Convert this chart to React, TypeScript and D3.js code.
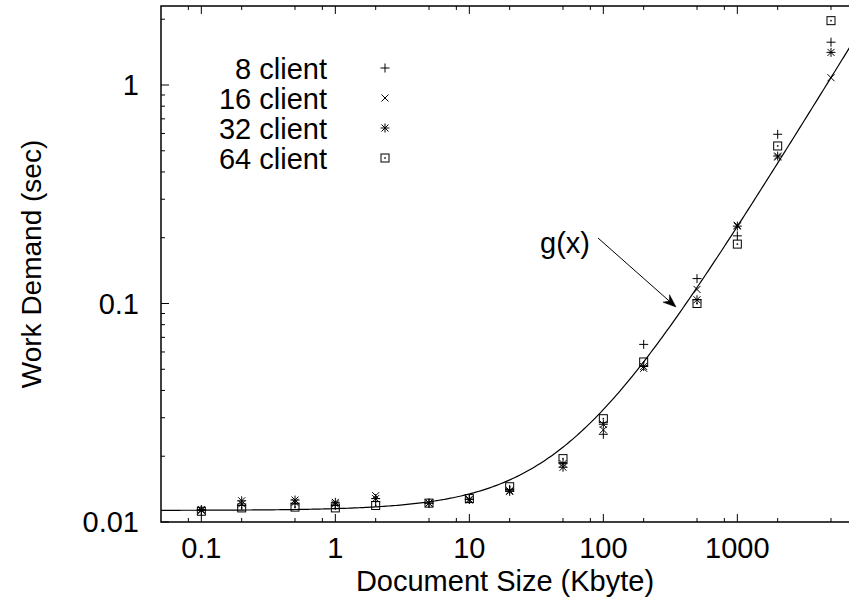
import React from "react";
import * as d3 from "d3";

const sizes = [0.1, 0.2, 0.5, 1, 2, 5, 10, 20, 50, 100, 200, 500, 1000, 2000, 5000];
const client8 = [0.0113, 0.0119, 0.0121, 0.0119, 0.0124, 0.0122, 0.0127, 0.0141, 0.0185, 0.0252, 0.065, 0.13, 0.204, 0.595, 1.57];
const client16 = [0.0113, 0.0121, 0.0123, 0.0121, 0.0132, 0.0122, 0.0126, 0.0139, 0.0185, 0.0264, 0.0505, 0.116, 0.228, 0.468, 1.08];
const client32 = [0.0114, 0.0125, 0.0126, 0.0123, 0.0128, 0.0122, 0.0127, 0.0138, 0.0178, 0.028, 0.0515, 0.104, 0.226, 0.473, 1.41];
const client64 = [0.0112, 0.0116, 0.0117, 0.0116, 0.0119, 0.0122, 0.0128, 0.0145, 0.0195, 0.0297, 0.054, 0.1, 0.187, 0.526, 1.97];
const seriesNames = ["8 client", "16 client", "32 client", "64 client"];
const seriesMarkers = ["plus", "cross", "star", "box"];

const xTickValues = [0.1, 1, 10, 100, 1000];
const xTickLabels = ["0.1", "1", "10", "100", "1000"];
const yTickValues = [0.01, 0.1, 1];
const yTickLabels = ["0.01", "0.1", "1"];

// fitted model g(x) = a + b x
const fitA = 0.0113;
const fitB = 0.000214;
const fitLabel = "g(x)";

const xTitle = "Document Size (Kbyte)";
const yTitle = "Work Demand (sec)";

const W = 849;
const H = 605;
const left = 161;
const bottom = 522;
const xDecade = 134;
const yDecade = 218.5;
const xMin = 0.05, xMax = 7000;
const yMin = 0.01, yMax = 2.3;

const x = d3.scaleLog().domain([xMin, xMax]).range([left, left + xDecade * Math.log10(xMax / xMin)]);
const y = d3.scaleLog().domain([yMin, yMax]).range([bottom, bottom - yDecade * Math.log10(yMax / yMin)]);
const top = y(yMax);
const right = x(xMax);

const FONT = "'Liberation Sans', Arial, Helvetica, sans-serif";
const FS = 29;

function Marker({ type, cx, cy }: { type: string; cx: number; cy: number }) {
  const s = 4.5;
  const c = 3.5;
  const b = 4;
  const st = { stroke: "#000", strokeWidth: 1, fill: "none" } as const;
  if (type === "plus")
    return <path d={`M${cx - s},${cy}H${cx + s}M${cx},${cy - s}V${cy + s}`} {...st} />;
  if (type === "cross")
    return <path d={`M${cx - c},${cy - c}L${cx + c},${cy + c}M${cx - c},${cy + c}L${cx + c},${cy - c}`} {...st} />;
  if (type === "star")
    return (
      <path
        d={`M${cx - s},${cy}H${cx + s}M${cx},${cy - s}V${cy + s}M${cx - c},${cy - c}L${cx + c},${cy + c}M${cx - c},${cy + c}L${cx + c},${cy - c}`}
        {...st}
      />
    );
  return (
    <g>
      <rect x={cx - b} y={cy - b} width={2 * b} height={2 * b} {...st} />
      <rect x={cx - 0.75} y={cy - 0.75} width={1.5} height={1.5} fill="#000" />
    </g>
  );
}

export default function App() {
  const series = [client8, client16, client32, client64];

  const xMinor: number[] = [];
  for (let e = -2; e <= 3; e++) {
    for (const m of [2, 5, 8]) {
      const v = m * Math.pow(10, e);
      if (v > xMin * 1.001 && v < xMax) xMinor.push(v);
    }
  }
  const yMinor: number[] = [];
  for (let e = -2; e <= 0; e++) {
    for (let m = 2; m <= 9; m++) {
      const v = m * Math.pow(10, e);
      if (v < yMax) yMinor.push(v);
    }
  }

  const curvePts: [number, number][] = [];
  const n = 300;
  for (let i = 0; i <= n; i++) {
    const lv = Math.log10(xMin) + (i / n) * Math.log10(xMax / xMin);
    const xv = Math.pow(10, lv);
    curvePts.push([xv, fitA + fitB * xv]);
  }
  const line = d3
    .line<[number, number]>()
    .x((d) => x(d[0]))
    .y((d) => y(d[1]));

  // arrow from label to curve
  const ax1 = 598, ay1 = 238, ax2 = 676, ay2 = 307;
  const ang = Math.atan2(ay2 - ay1, ax2 - ax1);
  const hl = 13, hw = 5, notch = 9;
  const ux = Math.cos(ang), uy = Math.sin(ang);
  const px = -uy, py = ux;
  const bx = ax2 - ux * hl, by = ay2 - uy * hl;
  const nx = ax2 - ux * notch, ny = ay2 - uy * notch;
  const head = `M${ax2},${ay2}L${bx + px * hw},${by + py * hw}L${nx},${ny}L${bx - px * hw},${by - py * hw}Z`;

  return (
    <svg width={W} height={H} style={{ position: "absolute", left: 0, top: 0, background: "#fff" }}>
      <rect x={0} y={0} width={W} height={H} fill="#fff" />
      {/* frame */}
      <path d={`M${right},${top}H${left}V${bottom}H${right}`} stroke="#000" strokeWidth={1.5} fill="none" />
      {/* x ticks */}
      {xTickValues.map((v) => (
        <g key={"xm" + v}>
          <line x1={x(v)} x2={x(v)} y1={bottom} y2={bottom - 8} stroke="#000" strokeWidth={1} />
          <line x1={x(v)} x2={x(v)} y1={top} y2={top + 8} stroke="#000" strokeWidth={1} />
        </g>
      ))}
      {xMinor.map((v) => (
        <g key={"xn" + v}>
          <line x1={x(v)} x2={x(v)} y1={bottom} y2={bottom - 4} stroke="#000" strokeWidth={1} />
          <line x1={x(v)} x2={x(v)} y1={top} y2={top + 4} stroke="#000" strokeWidth={1} />
        </g>
      ))}
      {/* y ticks */}
      {yTickValues.map((v) => (
        <line key={"ym" + v} x1={left} x2={left + 8} y1={y(v)} y2={y(v)} stroke="#000" strokeWidth={1} />
      ))}
      {yMinor.map((v) => (
        <line key={"yn" + v} x1={left} x2={left + 4} y1={y(v)} y2={y(v)} stroke="#000" strokeWidth={1} />
      ))}
      {/* tick labels */}
      {xTickValues.map((v, i) => (
        <text key={"xl" + v} x={x(v)} y={558} textAnchor="middle" fontFamily={FONT} fontSize={FS} fill="#000">
          {xTickLabels[i]}
        </text>
      ))}
      {yTickValues.map((v, i) => (
        <text key={"yl" + v} x={139} y={y(v) + FS * 0.36} textAnchor="end" fontFamily={FONT} fontSize={FS} fill="#000">
          {yTickLabels[i]}
        </text>
      ))}
      {/* titles */}
      <text x={(left + W) / 2} y={591} textAnchor="middle" fontFamily={FONT} fontSize={FS} fill="#000">
        {xTitle}
      </text>
      <text
        transform={`translate(41,${(top + bottom) / 2}) rotate(-90)`}
        textAnchor="middle"
        fontFamily={FONT}
        fontSize={28}
        fill="#000"
      >
        {yTitle}
      </text>
      {/* fit curve */}
      <path d={line(curvePts) || ""} stroke="#000" strokeWidth={1.2} fill="none" />
      {/* points */}
      {series.map((vals, si) =>
        vals.map((v, i) => <Marker key={si + "-" + i} type={seriesMarkers[si]} cx={x(sizes[i])} cy={y(v)} />)
      )}
      {/* legend */}
      {seriesNames.map((name, i) => (
        <g key={name}>
          <text x={327} y={79 + i * 30} textAnchor="end" fontFamily={FONT} fontSize={FS} fill="#000">
            {name}
          </text>
          <Marker type={seriesMarkers[i]} cx={385} cy={68 + i * 30} />
        </g>
      ))}
      {/* g(x) label and arrow */}
      <text x={590} y={253} textAnchor="end" fontFamily={FONT} fontSize={FS} fill="#000">
        {fitLabel}
      </text>
      <line x1={ax1} y1={ay1} x2={nx} y2={ny} stroke="#000" strokeWidth={1} />
      <path d={head} fill="#000" stroke="#000" strokeWidth={0.5} />
    </svg>
  );
}
